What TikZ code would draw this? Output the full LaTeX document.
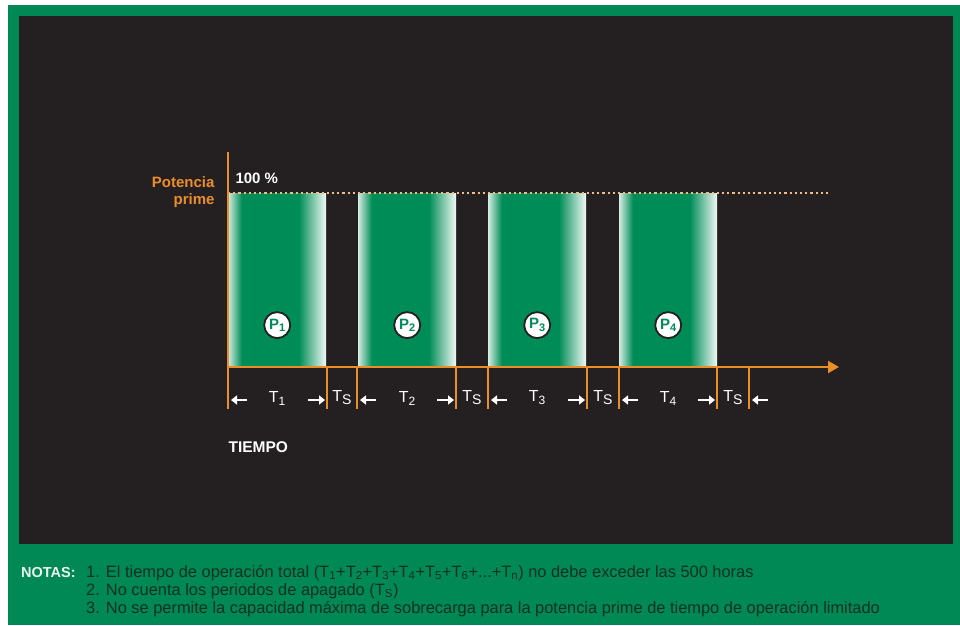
\documentclass[tikz,border=0pt]{standalone}
\usepackage{fontspec}
\setmainfont{Liberation Sans}
\usepackage{xcolor}
\usetikzlibrary{positioning}
\usetikzlibrary{arrows.meta, calc}
\definecolor{framegreen}{RGB}{0,137,84}
\definecolor{panelgray}{RGB}{36,31,32}
\definecolor{primeorange}{RGB}{236,142,40}
\definecolor{dotbeige}{RGB}{240,190,130}
\definecolor{bargreen}{RGB}{0,140,86}
\definecolor{notedark}{RGB}{18,48,32}
\def\Tsp{T\raisebox{-3pt}{\fontsize{14}{14}\selectfont S}}
\def\Tn#1{T\raisebox{-3pt}{\fontsize{12}{12}\selectfont #1}}
\def\Pn#1{P\raisebox{-2.5pt}{\fontsize{11}{11}\selectfont #1}}
\pgfdeclarehorizontalshading{barfade}{100bp}{color(0bp)=(white); color(25bp)=(white!82!bargreen); color(32bp)=(bargreen); color(61bp)=(bargreen); color(75bp)=(white!95!bargreen); color(100bp)=(white)}
\tikzstyle{runbar} = [shade, shading=barfade, inner sep=0pt, minimum width=98pt, minimum height=173pt, anchor=south west]
\tikzstyle{pmark} = [circle, draw=panelgray, line width=1.8pt, fill=white, inner sep=0pt, minimum size=26pt, text=bargreen, font=\bfseries\fontsize{15}{15}\selectfont]
\tikzstyle{axisline} = [primeorange, line width=2.2pt]
\tikzstyle{tickline} = [primeorange, line width=1.8pt]
\tikzstyle{dotline} = [dotbeige, line width=2.2pt, dash pattern=on 2.2pt off 3pt]
\tikzstyle{spanarrow} = [white, line width=2.6pt, -{Triangle[length=6pt,width=9pt]}]
\tikzstyle{tlabel} = [text=white, font=\fontsize{16}{16}\selectfont, inner sep=0pt]
\tikzstyle{notetxt} = [text=notedark, font=\fontsize{16.4}{18}\selectfont, inner sep=0pt, anchor=base west]

\begin{document}
\begin{tikzpicture}[x=1pt,y=-1pt]
      \useasboundingbox (0,0) rectangle (960,625);
      % frame
      \fill[white] (0,0) rectangle (960,625);
      \fill[framegreen] (8,5) rectangle (960,625);
      \fill[panelgray] (19,16) rectangle (953,544);
      % operating periods
      \node[runbar] (bar1) at (228,367) {};
      \node[runbar] (bar2) at (358,367) {};
      \node[runbar] (bar3) at (488,367) {};
      \node[runbar] (bar4) at (619,367) {};
      \node[pmark, above=28pt of bar1.south] (p1) {\Pn{1}};
      \node[pmark, above=28pt of bar2.south] (p2) {\Pn{2}};
      \node[pmark, above=28pt of bar3.south] (p3) {\Pn{3}};
      \node[pmark, above=28pt of bar4.south] (p4) {\Pn{4}};
      % axes
      \coordinate (o) at (228,367);
      \coordinate (ytop) at (228,152);
      \coordinate (xend) at (839,367);
      \coordinate (d0) at (228,193);
      \coordinate (d1) at (828,193);
      \draw[dotline] (d0)--(d1);
      \draw[axisline] (o)--(ytop);
      \draw[axisline, -{Triangle[length=11pt,width=12pt]}] (o)--(xend);
      \node[anchor=east, align=right, text=primeorange, font=\bfseries\fontsize{15}{17}\selectfont] (pp) at (218,192) {Potencia\\prime};
      \node[anchor=west, text=white, font=\bfseries\fontsize{15}{15}\selectfont] (pct) at (232,178) {100 \%};
      % ticks under the axis
      \coordinate (a1) at (228,367);
      \coordinate (a2) at (327,367);
      \coordinate (a3) at (357,367);
      \coordinate (a4) at (456,367);
      \coordinate (a5) at (488,367);
      \coordinate (a6) at (587,367);
      \coordinate (a7) at (619,367);
      \coordinate (a8) at (717,367);
      \coordinate (a9) at (749,367);
      \coordinate (b1) at (228,409);
      \coordinate (b2) at (327,409);
      \coordinate (b3) at (357,409);
      \coordinate (b4) at (456,409);
      \coordinate (b5) at (488,409);
      \coordinate (b6) at (587,409);
      \coordinate (b7) at (619,409);
      \coordinate (b8) at (717,409);
      \coordinate (b9) at (749,409);
      \draw[tickline] (a1)--(b1);
      \draw[tickline] (a2)--(b2);
      \draw[tickline] (a3)--(b3);
      \draw[tickline] (a4)--(b4);
      \draw[tickline] (a5)--(b5);
      \draw[tickline] (a6)--(b6);
      \draw[tickline] (a7)--(b7);
      \draw[tickline] (a8)--(b8);
      \draw[tickline] (a9)--(b9);
      % spans
      \coordinate (m1) at (228,400);
      \coordinate (m2) at (327,400);
      \coordinate (m3) at (357,400);
      \coordinate (m4) at (456,400);
      \coordinate (m5) at (488,400);
      \coordinate (m6) at (587,400);
      \coordinate (m7) at (619,400);
      \coordinate (m8) at (717,400);
      \coordinate (m9) at (749,400);
      \draw[spanarrow] ([xshift=19pt]m1)--([xshift=3pt]m1);
      \draw[spanarrow] ([xshift=-19pt]m2)--([xshift=-2pt]m2);
      \draw[spanarrow] ([xshift=19pt]m3)--([xshift=3pt]m3);
      \draw[spanarrow] ([xshift=-19pt]m4)--([xshift=-2pt]m4);
      \draw[spanarrow] ([xshift=19pt]m5)--([xshift=3pt]m5);
      \draw[spanarrow] ([xshift=-19pt]m6)--([xshift=-2pt]m6);
      \draw[spanarrow] ([xshift=19pt]m7)--([xshift=3pt]m7);
      \draw[spanarrow] ([xshift=-19pt]m8)--([xshift=-2pt]m8);
      \draw[spanarrow] ([xshift=19pt]m9)--([xshift=3pt]m9);
      \node[tlabel] (t1) at (277,398) {\Tn{1}};
      \node[tlabel] (s1) at (342,398) {\Tsp};
      \node[tlabel] (t2) at (407,398) {\Tn{2}};
      \node[tlabel] (s2) at (472,398) {\Tsp};
      \node[tlabel] (t3) at (537,398) {\Tn{3}};
      \node[tlabel] (s3) at (603,398) {\Tsp};
      \node[tlabel] (t4) at (668,398) {\Tn{4}};
      \node[tlabel] (s4) at (733,398) {\Tsp};
      \node[anchor=west, text=white, font=\bfseries\fontsize{15.5}{15.5}\selectfont] (tiempo) at (225,447) {TIEMPO};
      % notes
      \node[anchor=base west, inner sep=0pt, text=white!92!framegreen, font=\bfseries\fontsize{14.5}{16}\selectfont] (notas) at (21,577) {NOTAS:};
      \node[notetxt] (n1) at (86,577) {1. El tiempo de operación total (T\textsubscript{1}+T\textsubscript{2}+T\textsubscript{3}+T\textsubscript{4}+T\textsubscript{5}+T\textsubscript{6}+...+T\textsubscript{n}) no debe exceder las 500 horas};
      \node[notetxt] (n2) at ([yshift=-18pt]n1.base west) {2. No cuenta los periodos de apagado (T\textsubscript{S})};
      \node[notetxt] (n3) at ([yshift=-18pt]n2.base west) {3. No se permite la capacidad máxima de sobrecarga para la potencia prime de tiempo de operación limitado};
\end{tikzpicture}
\end{document}
